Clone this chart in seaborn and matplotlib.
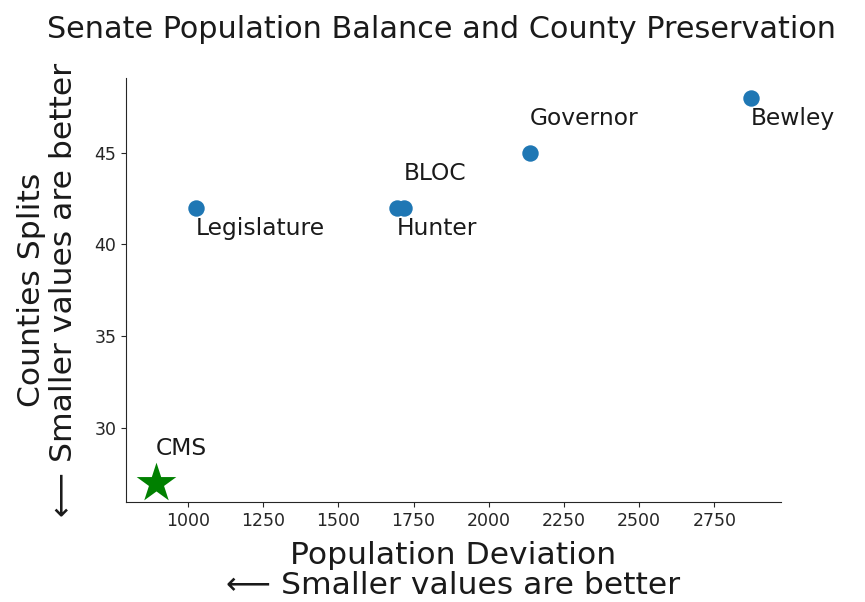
import numpy as np
import pandas as pd
import matplotlib
matplotlib.use("Agg")
import matplotlib.pyplot as plt
import seaborn as sns

# plan values
plans = ["Legislature", "Hunter", "BLOC", "Governor", "Bewley"]
pop_dev = [1027, 1695, 1718, 2137, 2872]
county_splits = [42, 42, 42, 45, 48]
label_offset = [-1.5, -1.5, 1.5, 1.5, -1.5]

best_name = "CMS"
best_pop_dev = 893
best_splits = 27

sns.set_style("ticks")
plt.rcParams["font.family"] = ["DejaVu Sans"]

df = pd.DataFrame({"plan": plans, "pop_dev": pop_dev, "splits": county_splits})

fig = plt.figure(figsize=(8.65, 6.02), dpi=100)
ax = fig.add_axes([0.1457, 0.166, 0.757, 0.704])

sns.scatterplot(data=df, x="pop_dev", y="splits", s=140, linewidth=0,
                color="#1f77b4", ax=ax)
sns.scatterplot(x=[best_pop_dev], y=[best_splits], marker="*", s=900,
                color="green", linewidth=0, ax=ax)

for name, x, y, off in zip(plans, pop_dev, county_splits, label_offset):
    ax.text(x, y + off, name, fontsize=16.8, color="0.1")
ax.text(best_pop_dev, best_splits + 1.5, best_name, fontsize=16.8, color="0.1")

ax.set_xticks([1000, 1250, 1500, 1750, 2000, 2250, 2500, 2750])
ax.set_yticks([30, 35, 40, 45])
ax.tick_params(labelsize=12.5)
ax.set_xlabel("Population Deviation\n\u27f5 Smaller values are better",
              fontsize=22.6, labelpad=8, color="0.1", linespacing=1.05)
ax.set_ylabel("Counties Splits\n\u27f5 Smaller values are better",
              fontsize=22.6, labelpad=12, color="0.1", linespacing=1.1)
fig.suptitle("Senate Population Balance and County Preservation", fontsize=21.8,
             x=0.51, y=0.937, va="baseline", color="0.1")
sns.despine(ax=ax)

fig.savefig("out.png", dpi=100)
